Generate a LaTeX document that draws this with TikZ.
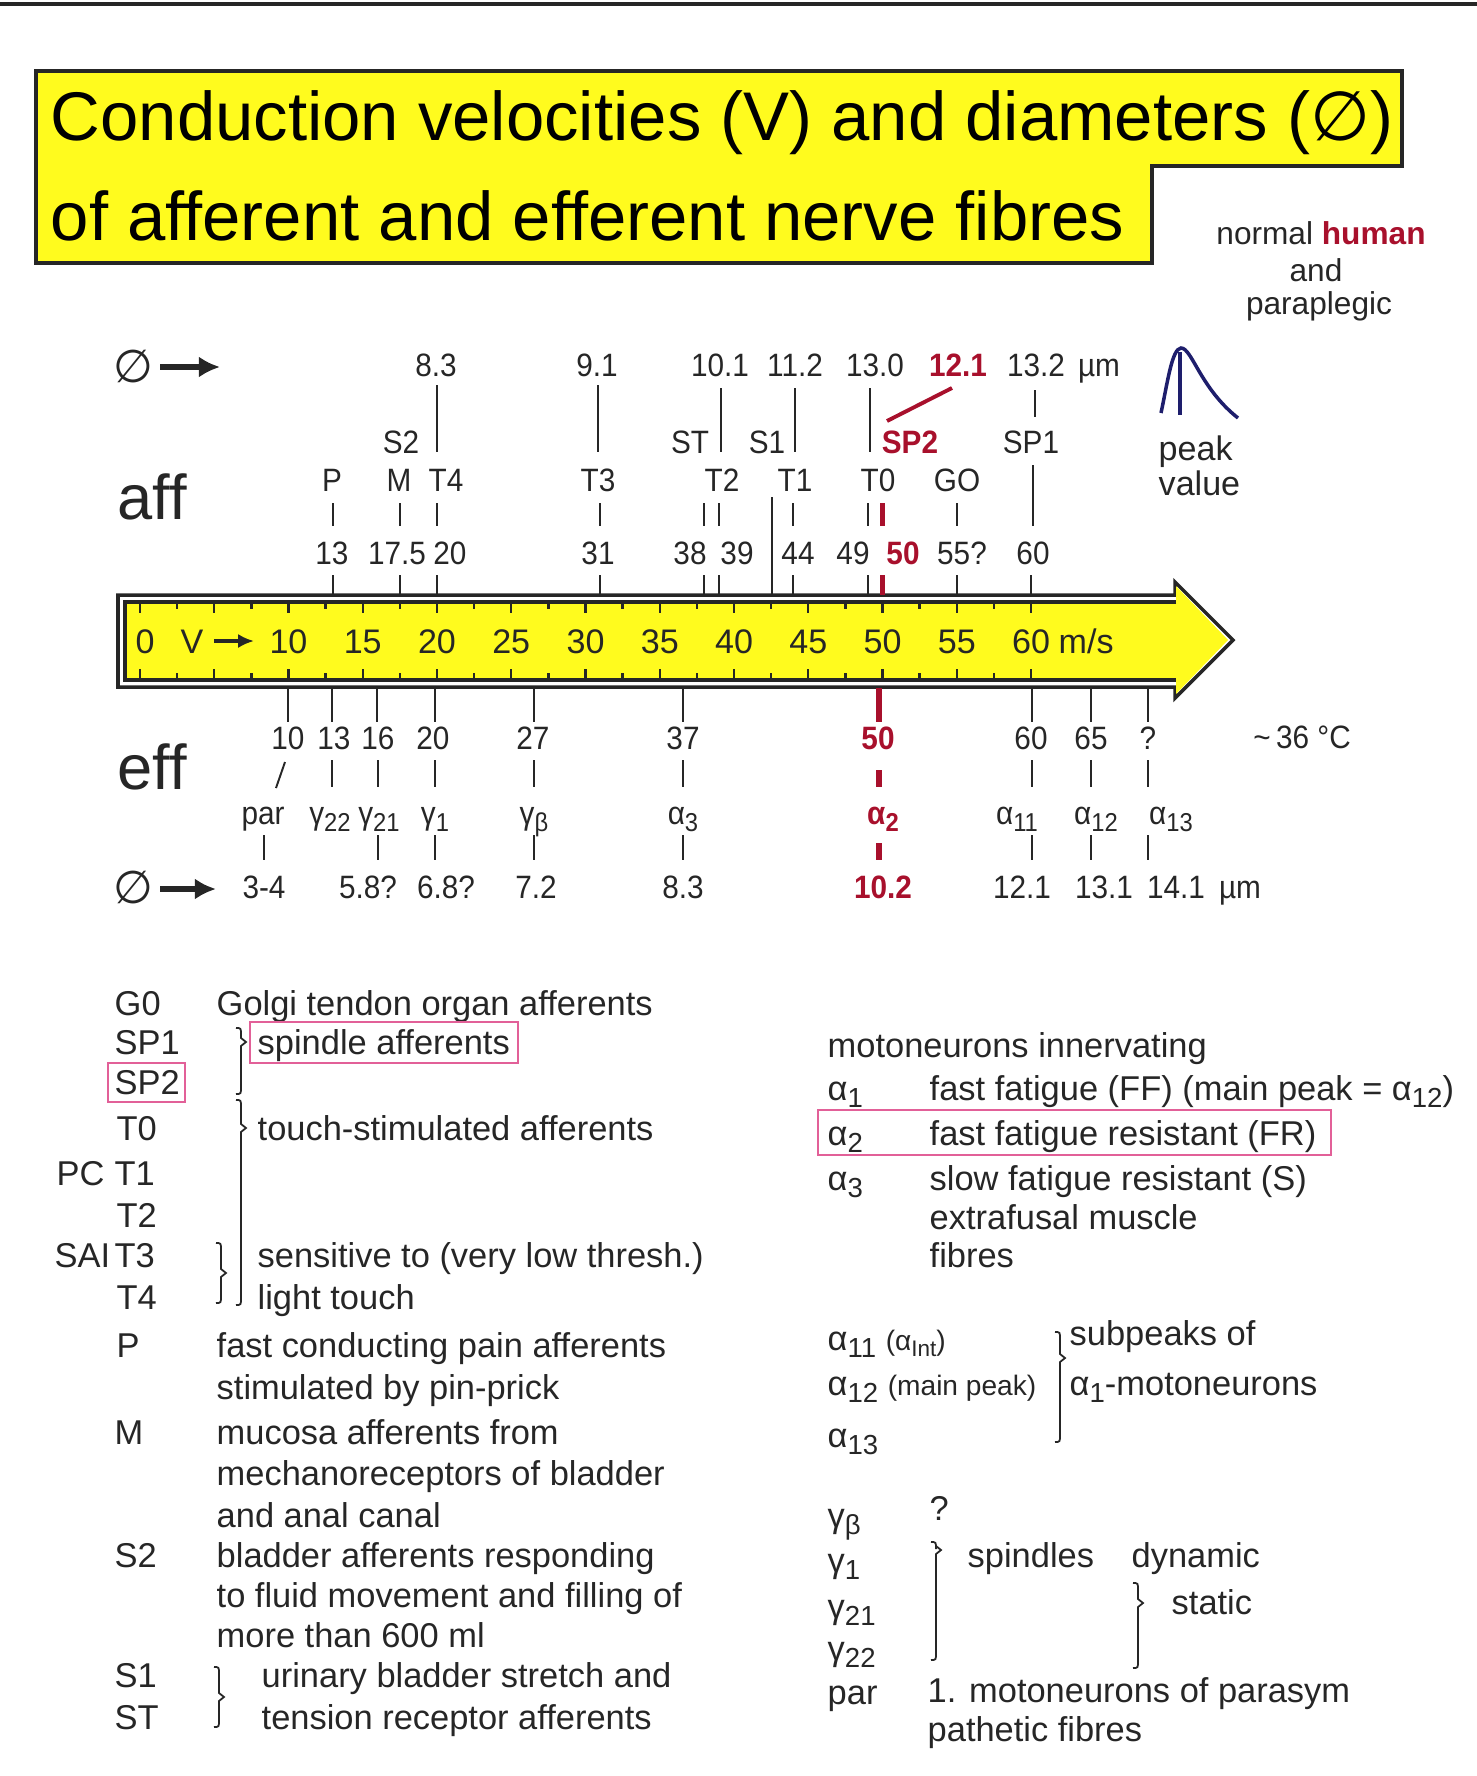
\documentclass[tikz,border=0pt]{standalone}
\usepackage{fontspec}
\usepackage{graphicx}
\setmainfont{Liberation Sans}
\newfontfamily\dejavu{DejaVu Sans}
\newfontfamily\narrowf[FakeStretch=0.92]{Liberation Sans}
\usetikzlibrary{arrows.meta}
\definecolor{ylw}{RGB}{255,251,30}
\definecolor{ink}{RGB}{38,38,38}
\definecolor{dred}{RGB}{168,16,44}
\definecolor{pinkb}{RGB}{226,96,152}
\definecolor{navy}{RGB}{30,30,108}
\newcommand{\fs}[1]{\fontsize{#1}{#1}\selectfont}
\newcommand{\sbx}[1]{\raisebox{-0.42ex}{\scalebox{0.8}{#1}}}
\newcommand{\brc}[4]{\draw[ink,line width=0.5pt] ({#1-5},#2) .. controls (#1,#2) .. (#1,{#2+7}) -- (#1,{#4-4}) -- ({#1+5},#4) -- (#1,{#4+4}) -- (#1,{#3-7}) .. controls (#1,#3) .. ({#1-5},#3);}
\tikzset{
 num/.style={font=\narrowf\fs{9.2}, inner sep=0pt, text height=6.6pt, text depth=0pt, text=ink},
 rnum/.style={num, font=\narrowf\bfseries\fs{9.2}, text=dred},
 alab/.style={font=\fs{9.7}, inner sep=0pt, text height=7pt, text depth=0pt, text=ink},
 leg/.style={font=\fs{9.8}, inner sep=0pt, text height=7pt, text depth=0pt, anchor=west, text=ink},
 ttl/.style={font=\fs{19.6}, inner sep=0pt, anchor=base west, text=black},
 big/.style={font=\fs{18}, inner sep=0pt, anchor=base west, text=ink},
 hum/.style={font=\fs{9}, inner sep=0pt, text height=6.4pt, text depth=0pt, text=ink},
 tk/.style={draw=ink, line width=0.55pt},
 rtk/.style={draw=dred, line width=1.5pt},
 pbox/.style={draw=pinkb, line width=0.8pt},
 symb/.style={font=\dejavu\fs{13}, inner sep=0pt, text=ink},
 fatarrow/.style={draw=ink, line width=1.6pt, -{Latex[length=6pt,width=6pt]}},
}
\begin{document}
\begin{tikzpicture}[x=0.1mm,y=-0.1mm]
\useasboundingbox (0,0) rectangle (1477,1776);
\draw[ink, line width=1.3pt] (0,4) -- (1477,4);

% ---------- title ----------
\filldraw[fill=ylw, draw=ink, line width=1.1pt] (36,71) -- (1402,71) -- (1402,166) -- (1152,166) -- (1152,263) -- (36,263) -- cycle;
\node[ttl] (title1) at (50,140) {Conduction velocities (V) and diameters ({\dejavu ∅})};
\node[ttl] (title2) at (50,240) {of afferent and efferent nerve fibres};

\node[hum] (nh1) at (1321,233) {normal {\bfseries\color{dred}human}};
\node[hum] (nh2) at (1316,270) {and};
\node[hum] (nh3) at (1319,303) {paraplegic};

% ---------- peak symbol ----------
\draw[navy, line width=1pt] (1161,413) .. controls (1168,380) and (1172,349) .. (1181,348) .. controls (1192,348) and (1200,388) .. (1238,418);
\draw[navy, line width=1pt] (1180,352) -- (1180,415);
\node[alab, anchor=west] (pk1) at (1158,448) {peak};
\node[alab, anchor=west] (pk2) at (1158,483) {value};

% ---------- velocity arrow ----------
\filldraw[fill=white, draw=ink, line width=1pt] (118,595) -- (1175,595) -- (1175,582) -- (1233,640) -- (1175,698) -- (1175,687) -- (118,687) -- cycle;
\fill[ylw] (125,602) rectangle (1177,680);
\fill[ylw] (1176,586) -- (1228,640) -- (1176,694) -- cycle;
\draw[ink, line width=0.9pt] (1176,602) -- (125,602) -- (125,680) -- (1176,680);
\foreach \v in {0,5,...,60} {
  \draw[ink, line width=0.7pt] ({140+14.85*\v},602) -- ++(0,11);
  \draw[ink, line width=0.7pt] ({140+14.85*\v},680) -- ++(0,-11);
}
\foreach \v in {2.5,7.5,...,57.5} {
  \draw[ink, line width=0.7pt] ({140+14.85*\v},602) -- ++(0,7);
  \draw[ink, line width=0.7pt] ({140+14.85*\v},680) -- ++(0,-7);
}
\node[alab] (a0) at (145,641) {0};
\node[alab] (aV) at (192,641) {V};
\draw[ink, line width=1.3pt, -{Latex[length=4.5pt,width=4pt]}] (214,641) -- (254,641);
\foreach \v in {10,15,...,60} \node[alab] (al\v) at ({140+14.85*\v},641) {\v};
\node[alab, anchor=west] (ams) at (1058,641) {m/s};

% ---------- afferent part ----------
\node[symb] (dA) at (133,366) {∅};
\draw[fatarrow] (160,367) -- (220,367);
\node[big] (aff) at (117,519) {aff};

\node[num] (d83) at (436,365) {8.3};
\node[num] (d91) at (597,365) {9.1};
\node[num] (d101) at (720,365) {10.1};
\node[num] (d112) at (795,365) {11.2};
\node[num] (d130) at (875,365) {13.0};
\node[rnum] (d121) at (958,365) {12.1};
\node[num] (d132) at (1036,365) {13.2};
\node[num] (dum) at (1099,365) {µm};
\draw[tk] (437,385) -- (437,452);
\draw[tk] (598,385) -- (598,452);
\draw[tk] (721,388) -- (721,452);
\draw[tk] (795,388) -- (795,452);
\draw[tk] (870,388) -- (870,452);
\draw[tk] (1035,390) -- (1035,417);
\draw[draw=dred, line width=1.1pt] (952,388) -- (887,421);

\node[num] (sS2) at (401,442) {S2};
\node[num] (sST) at (690,442) {ST};
\node[num] (sS1) at (767,442) {S1};
\node[rnum] (sSP2) at (910,442) {SP2};
\node[num] (sSP1) at (1031,442) {SP1};

\node[num] (tP) at (332,480) {P};
\node[num] (tM) at (399,480) {M};
\node[num] (tT4) at (446,480) {T4};
\node[num] (tT3) at (598,480) {T3};
\node[num] (tT2) at (722,480) {T2};
\node[num] (tT1) at (795,480) {T1};
\node[num] (tT0) at (878,480) {T0};
\node[num] (tGO) at (957,480) {GO};

\foreach \x in {333,400,437,600,704,719,793,868,957} \draw[tk] (\x,503) -- (\x,526);
\draw[rtk] (882.5,503) -- (882.5,526);
\draw[tk] (1033,465) -- (1033,526);
\draw[tk] (772,497) -- (772,595);

\node[num] (n13) at (332,553) {13};
\node[num] (n175) at (397,553) {17.5};
\node[num] (n20) at (450,553) {20};
\node[num] (n31) at (598,553) {31};
\node[num] (n38) at (690,553) {38};
\node[num] (n39) at (737,553) {39};
\node[num] (n44) at (798,553) {44};
\node[num] (n49) at (853,553) {49};
\node[rnum] (n50) at (903,553) {50};
\node[num] (n55) at (962,553) {55?};
\node[num] (n60) at (1033,553) {60};
\foreach \x in {333,400,437,600,704,719,793,868,957,1031} \draw[tk] (\x,575) -- (\x,595);
\draw[rtk] (882.5,575) -- (882.5,595);

% ---------- efferent part ----------
\foreach \x in {288,332,377,435,534,683,1032,1091,1148} \draw[tk] (\x,688) -- (\x,722);
\draw[rtk, line width=1.8pt] (879,688) -- (879,722);

\node[big] (eff) at (117,789) {eff};

\node[num] (e10) at (288,738) {10};
\node[num] (e13) at (334,738) {13};
\node[num] (e16) at (378,738) {16};
\node[num] (e20) at (433,738) {20};
\node[num] (e27) at (533,738) {27};
\node[num] (e37) at (683,738) {37};
\node[rnum] (e50) at (878,738) {50};
\node[num] (e60) at (1031,738) {60};
\node[num] (e65) at (1091,738) {65};
\node[num] (eq) at (1148,738) {?};
\node[num] (temp) at (1302,737) {\textasciitilde\,36 °C};

\draw[tk] (285,762) -- (276,788);
\foreach \x in {332,378,435,534,683,1032,1091,1148} \draw[tk] (\x,760) -- (\x,787);
\draw[rtk, line width=1.8pt] (879,770) -- (879,787);

\node[num] (lpar) at (263,813) {par};
\node[num] (lg22) at (330,813) {γ\sbx{22}};
\node[num] (lg21) at (379,813) {γ\sbx{21}};
\node[num] (lg1) at (435,813) {γ\sbx{1}};
\node[num] (lgb) at (534,813) {γ\sbx{β}};
\node[num] (la3) at (683,813) {α\sbx{3}};
\node[rnum] (la2) at (883,813) {α\sbx{2}};
\node[num] (la11) at (1017,813) {α\sbx{11}};
\node[num] (la12) at (1096,813) {α\sbx{12}};
\node[num] (la13) at (1171,813) {α\sbx{13}};

\foreach \x in {264,378,435,534,683,1032,1091,1148} \draw[tk] (\x,835) -- (\x,860);
\draw[rtk, line width=1.8pt] (879,843) -- (879,860);

\node[symb] (dE) at (133,887) {∅};
\draw[fatarrow] (160,889) -- (216,889);
\node[num] (f34) at (264,887) {3-4};
\node[num] (f58) at (368,887) {5.8?};
\node[num] (f68) at (446,887) {6.8?};
\node[num] (f72) at (536,887) {7.2};
\node[num] (f83) at (683,887) {8.3};
\node[rnum] (f102) at (883,887) {10.2};
\node[num] (f121) at (1022,887) {12.1};
\node[num] (f131) at (1104,887) {13.1};
\node[num] (f141) at (1176,887) {14.1};
\node[num] (fum) at (1240,887) {µm};

% ---------- left legend ----------
\node[leg] (kG0) at (114,1003) {G0};
\node[leg] (kSP1) at (114,1042) {SP1};
\node[leg] (kSP2) at (114,1082) {SP2};
\draw[pbox] (108,1063) rectangle (185,1102);
\node[leg] (kT0) at (116,1128) {T0};
\node[leg] (kPC) at (56,1173) {PC};
\node[leg] (kT1) at (114,1173) {T1};
\node[leg] (kT2) at (116,1215) {T2};
\node[leg] (kSAI) at (54,1255) {SAI};
\node[leg] (kT3) at (114,1255) {T3};
\node[leg] (kT4) at (116,1297) {T4};
\node[leg] (kP) at (116,1345) {P};
\node[leg] (kM) at (114,1432) {M};
\node[leg] (kS2) at (114,1555) {S2};
\node[leg] (kS1) at (114,1675) {S1};
\node[leg] (kST) at (114,1717) {ST};

\node[leg] (x1) at (216,1003) {Golgi tendon organ afferents};
\node[leg] (x2) at (257,1042) {spindle afferents};
\draw[pbox] (250,1022) rectangle (518,1063);
\node[leg] (x3) at (257,1128) {touch-stimulated afferents};
\node[leg] (x4) at (257,1255) {sensitive to (very low thresh.)};
\node[leg] (x5) at (257,1297) {light touch};
\node[leg] (x6) at (216,1345) {fast conducting pain afferents};
\node[leg] (x7) at (216,1387) {stimulated by pin-prick};
\node[leg] (x8) at (216,1432) {mucosa afferents from};
\node[leg] (x9) at (216,1473) {mechanoreceptors of bladder};
\node[leg] (x10) at (216,1515) {and anal canal};
\node[leg] (x11) at (216,1555) {bladder afferents responding};
\node[leg] (x12) at (216,1595) {to fluid movement and filling of};
\node[leg] (x13) at (216,1635) {more than 600 ml};
\node[leg] (x14) at (261,1675) {urinary bladder stretch and};
\node[leg] (x15) at (261,1717) {tension receptor afferents};

\brc{241}{1028}{1094}{1042}
\brc{241}{1100}{1305}{1128}
\brc{221}{1243}{1303}{1273}
\brc{219}{1667}{1727}{1697}

% ---------- right legend ----------
\node[leg] (r0) at (827,1045) {motoneurons innervating};
\node[leg] (ra1) at (827,1088) {α\sbx{1}};
\node[leg] (rd1) at (929,1088) {fast fatigue (FF) (main peak = α\sbx{12})};
\node[leg] (ra2) at (827,1133) {α\sbx{2}};
\node[leg] (rd2) at (929,1133) {fast fatigue resistant (FR)};
\draw[pbox] (818,1110) rectangle (1331,1155);
\node[leg] (ra3) at (827,1178) {α\sbx{3}};
\node[leg] (rd3) at (929,1178) {slow fatigue resistant (S)};
\node[leg] (rd4) at (929,1217) {extrafusal muscle};
\node[leg] (rd5) at (929,1255) {fibres};

\node[leg] (ra11) at (827,1338) {α\sbx{11} {\fs{8}(α\sbx{Int})}};
\node[leg] (rsp) at (1069,1333) {subpeaks of};
\node[leg] (ra12) at (827,1383) {α\sbx{12} {\fs{8}(main peak)}};
\node[leg] (ra1m) at (1069,1383) {α\sbx{1}-motoneurons};
\node[leg] (ra13) at (827,1435) {α\sbx{13}};
\brc{1060}{1332}{1442}{1358}

\node[leg] (rgb) at (827,1515) {γ\sbx{β}};
\node[leg] (rq) at (929,1508) {?};
\node[leg] (rg1) at (827,1560) {γ\sbx{1}};
\node[leg] (rspi) at (967,1555) {spindles};
\node[leg] (rdyn) at (1131,1555) {dynamic};
\node[leg] (rsta) at (1171,1602) {static};
\node[leg] (rg21) at (827,1606) {γ\sbx{21}};
\node[leg] (rg22) at (827,1648) {γ\sbx{22}};
\node[leg] (rpar) at (827,1692) {par};
\node[leg] (rpd1) at (927,1690) {1. motoneurons of parasym};
\node[leg] (rpd2) at (927,1729) {pathetic fibres};
\brc{936}{1542}{1660}{1550}
\brc{1138}{1583}{1668}{1603}
\end{tikzpicture}
\end{document}
